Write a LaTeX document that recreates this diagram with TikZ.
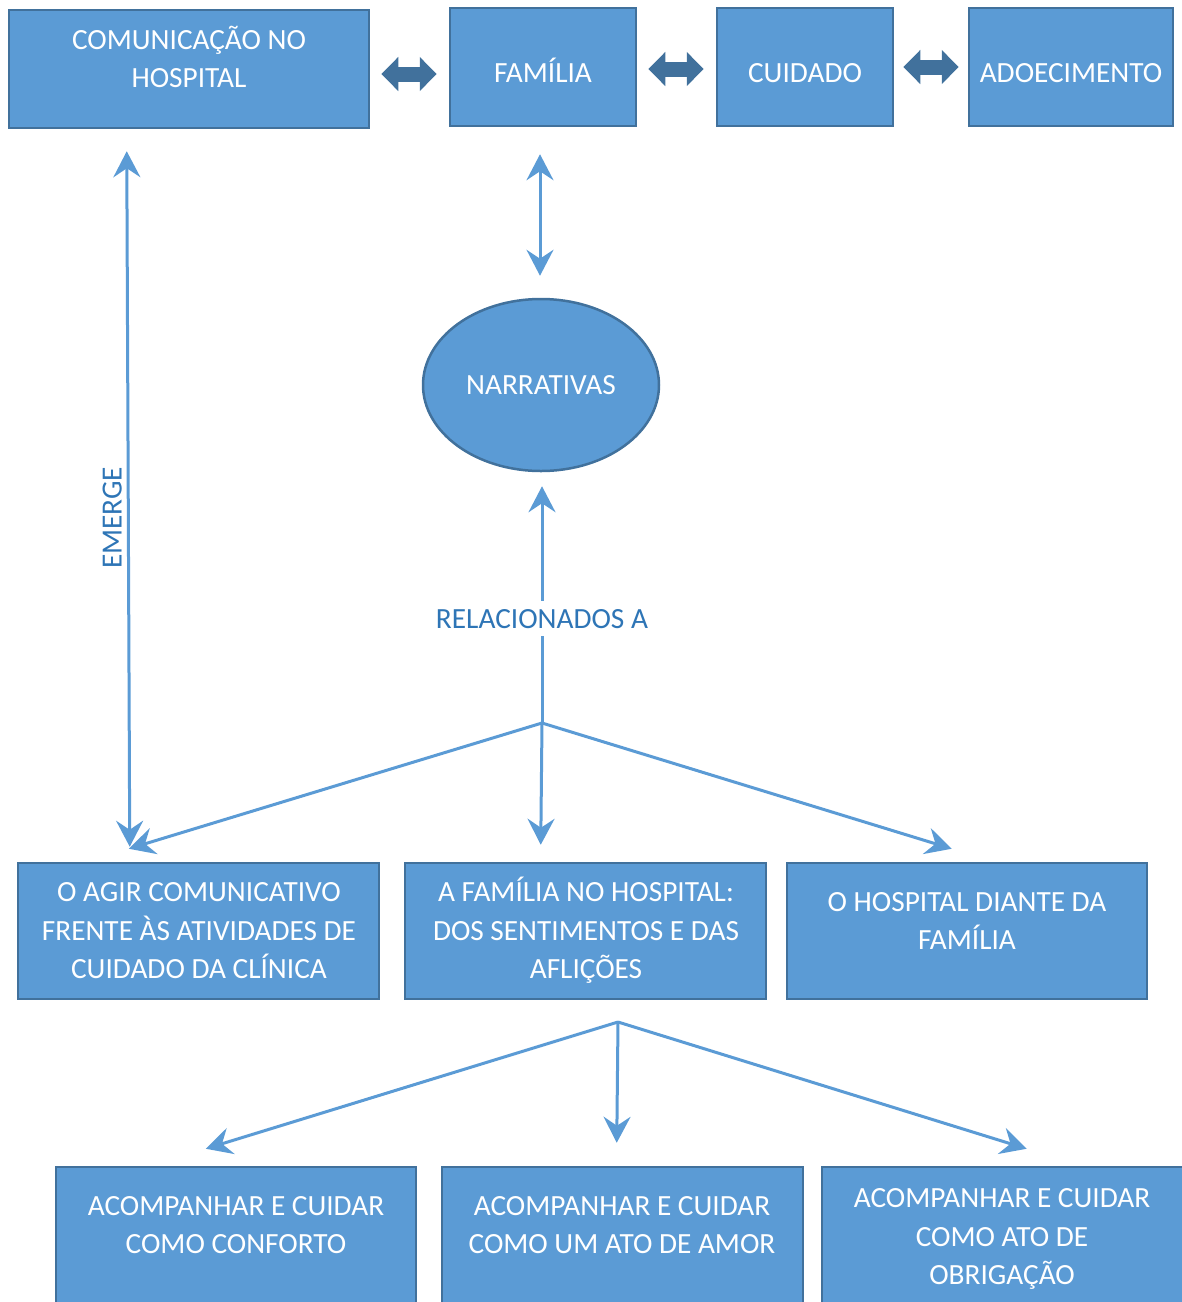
\documentclass[tikz,border=0pt]{standalone}
\usepackage{fontspec}
\setmainfont{Carlito}
\usetikzlibrary{arrows.meta,shapes.geometric}
\definecolor{boxfill}{HTML}{5B9BD5}
\definecolor{boxline}{HTML}{41719C}
\definecolor{labeltext}{HTML}{2E75B6}
\tikzset{
  box/.style={draw=boxline, fill=boxfill, line width=2.5pt, inner sep=0pt, rectangle},
  oval/.style={draw=boxline, fill=boxfill, line width=2.5pt, inner sep=0pt, ellipse},
  boxtext/.style={text=white, align=center, anchor=base, inner sep=0pt,
    font=\fontsize{29.3}{38.5}\selectfont},
  fat/.style={draw=boxline, line width=15pt,
    {Triangle[length=17pt,width=33pt]}-{Triangle[length=17pt,width=33pt]}},
  thinarrow/.style={draw=boxfill, line width=3pt},
  lbl/.style={text=labeltext, font=\fontsize{29.3}{38.5}\selectfont, inner sep=0pt}
}
\begin{document}
\begin{tikzpicture}[x=1pt,y=-1pt]
\useasboundingbox (0,0) rectangle (1182,1302);
\clip (0,0) rectangle (1182,1302);
% top boxes
\node[box, minimum width=360, minimum height=118] (com) at (189,69) {};
\node[box, minimum width=186, minimum height=118] (fam) at (543,67) {};
\node[box, minimum width=176, minimum height=118] (cui) at (805,67) {};
\node[box, minimum width=204, minimum height=118] (ado) at (1071,67) {};
\node[boxtext] (tcom) at (189,87.5) {COMUNICAÇÃO NO\\HOSPITAL};
\node[boxtext] (tfam) at (543,82.5) {FAMÍLIA};
\node[boxtext] (tcui) at (805,82.5) {CUIDADO};
\node[boxtext] (tado) at (1071,82.5) {ADOECIMENTO};
% ellipse
\node[oval, minimum width=236, minimum height=172] (narr) at (541,385) {};
\node[boxtext] (tnarr) at (541,394.5) {NARRATIVAS};
% middle boxes
\node[box, minimum width=361, minimum height=136] (b1) at (198.5,931) {};
\node[box, minimum width=361, minimum height=136] (b2) at (585.5,931) {};
\node[box, minimum width=360, minimum height=136] (b3) at (967,931) {};
\node[boxtext] (tb1) at (199,978.5) {O AGIR COMUNICATIVO\\FRENTE ÀS ATIVIDADES DE\\CUIDADO DA CLÍNICA};
\node[boxtext] (tb2) at (586,978.5) {A FAMÍLIA NO HOSPITAL:\\DOS SENTIMENTOS E DAS\\AFLIÇÕES};
\node[boxtext] (tb3) at (967,949.5) {O HOSPITAL DIANTE DA\\FAMÍLIA};
% bottom boxes
\node[box, minimum width=360, minimum height=180] (c1) at (236,1257) {};
\node[box, minimum width=361, minimum height=180] (c2) at (622.5,1257) {};
\node[box, minimum width=362, minimum height=180] (c3) at (1003,1257) {};
\node[boxtext] (tc1) at (236,1253.5) {ACOMPANHAR E CUIDAR\\COMO CONFORTO};
\node[boxtext] (tc2) at (622,1253.5) {ACOMPANHAR E CUIDAR\\COMO UM ATO DE AMOR};
\node[boxtext] (tc3) at (1002,1284.5) {ACOMPANHAR E CUIDAR\\COMO ATO DE\\OBRIGAÇÃO};
% fat double arrows
\draw[fat] ([shift={(11,5)}]com.east) -- ([shift={(-12,7)}]fam.west);
\draw[fat] ([shift={(11,2)}]fam.east) -- ([shift={(-12,2)}]cui.west);
\draw[fat] ([shift={(9,0)}]cui.east) -- ([shift={(-9,0)}]ado.west);
% thin arrows
\draw[thinarrow, {Stealth[length=26pt,width=27pt,inset=9pt]}-{Stealth[length=26pt,width=27pt,inset=9pt]}]
  ([shift={(-3,27)}]fam.south) -- ([shift={(-1,-22)}]narr.north);
\draw[thinarrow, {Stealth[length=26pt,width=27pt,inset=9pt]}-{Stealth[length=26pt,width=27pt,inset=9pt]}]
  ([shift={(113,-15)}]b1.north west) -- node[pos=0.473, rotate=90, anchor=south, lbl, inner xsep=0pt, inner ysep=5pt] (lemerge) {EMERGE}
  ([shift={(119,22)}]com.south west);
\coordinate (j1) at (542,723);
\draw[thinarrow, -{Stealth[length=26pt,width=27pt,inset=9pt]}]
  (j1) -- node[pos=0.441, fill=white, lbl, inner ysep=8pt, inner xsep=0pt] (lrel) {RELACIONADOS A}
  ([shift={(1,14)}]narr.south);
\draw[thinarrow, -{Stealth[length=26pt,width=27pt,inset=9pt]}] (j1) -- ([shift={(112,-13)}]b1.north west);
\draw[thinarrow, -{Stealth[length=26pt,width=27pt,inset=9pt]}] (j1) -- ([shift={(137,-17)}]b2.north west);
\draw[thinarrow, -{Stealth[length=26pt,width=27pt,inset=9pt]}] (j1) -- ([shift={(166,-13)}]b3.north west);
\coordinate (j2) at (618,1022);
\draw[thinarrow, -{Stealth[length=26pt,width=27pt,inset=9pt]}] (j2) -- ([shift={(151,-17)}]c1.north west);
\draw[thinarrow, -{Stealth[length=26pt,width=27pt,inset=9pt]}] (j2) -- ([shift={(176,-23)}]c2.north west);
\draw[thinarrow, -{Stealth[length=26pt,width=27pt,inset=9pt]}] (j2) -- ([shift={(206,-17)}]c3.north west);
\end{tikzpicture}
\end{document}
